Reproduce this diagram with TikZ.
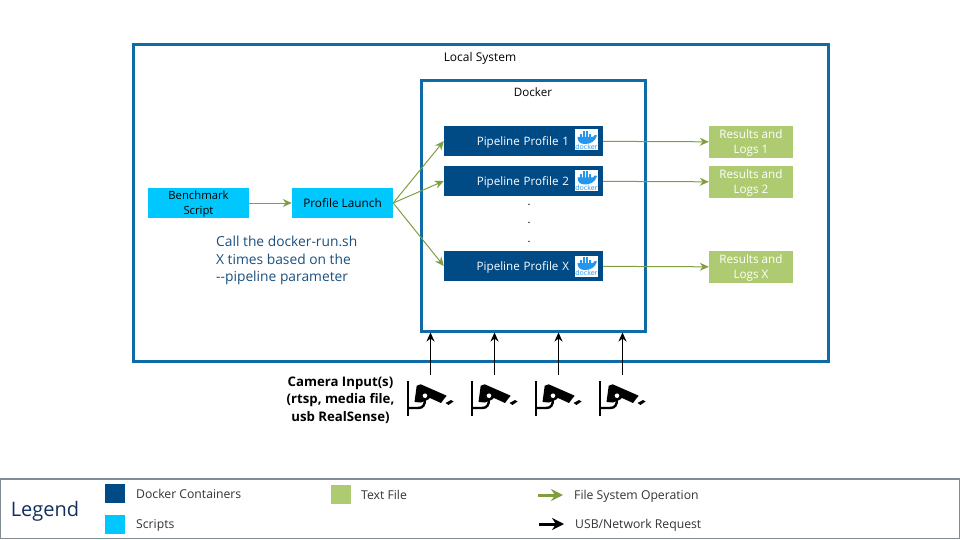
\documentclass[tikz,border=0pt]{standalone}
\usepackage{fontspec}
\setmainfont{Open Sans}
\definecolor{frameblue}{HTML}{0F6BA8}
\definecolor{navy}{HTML}{004A86}
\definecolor{calltext}{HTML}{1A4F7F}
\definecolor{legendnavy}{HTML}{142F5C}
\definecolor{scriptblue}{HTML}{00C7FD}
\definecolor{filegreen}{HTML}{AECB72}
\definecolor{arrowgreen}{HTML}{7F9F3F}
\definecolor{whaleblue}{HTML}{2496ED}
\definecolor{legendgray}{HTML}{7F8C96}
\newcommand{\lowtext}[1]{\rule{0pt}{#1pt}}
\tikzset{
  frame/.style={draw=frameblue, line width=3pt},
  framelabel/.style={inner sep=0pt},
  pipebox/.style={fill=navy, text=white, minimum height=30.5pt, inner sep=0pt, text width=159pt, align=right, font=\fontsize{11.6}{13}\selectfont},
  scriptbox/.style={fill=scriptblue, minimum width=101pt, minimum height=30pt, inner sep=0pt, align=center, font=\fontsize{11.3}{15}\selectfont},
  filebox/.style={fill=filegreen, text=white, minimum width=84pt, minimum height=32pt, inner sep=0pt, align=center, font=\fontsize{11.7}{15}\selectfont},
  swatch/.style={minimum width=20pt, minimum height=19pt, inner sep=0pt},
  legendtext/.style={anchor=west, inner sep=0pt, text=black!80, font=\fontsize{12.2}{14}\selectfont},
  fileop/.style={draw=arrowgreen, line width=1pt, -{Stealth[length=9pt, width=8pt]}},
  netreq/.style={draw=black, line width=1.2pt, -{Stealth[length=9pt, width=8pt]}},
  dockerlogo/.pic={
    \fill[white] (0,0) rectangle (23,21);
    \fill[whaleblue] (2.5,7.5) -- (18,7.5) .. controls (18.5,5) and (21,5) .. (22,6) .. controls (20.5,12) and (15,14.5) .. (10,14.5) .. controls (5,14.5) and (2.5,12) .. (2.5,7.5) -- cycle;
    \foreach \bx in {4.5,7.5,10.5,13.5} \fill[whaleblue] (\bx,4.4) rectangle +(2.7,3.2);
    \foreach \bx in {7.5,10.5} \fill[whaleblue] (\bx,1.2) rectangle +(2.7,3);
    \node[whaleblue, inner sep=0pt, font=\fontsize{7}{7}\selectfont] at (11.5,17.5) {docker};
  },
  camerapic/.pic={
    \fill[black] (0.7,0) rectangle (3.4,35); % post
    \draw[black, line width=2.4pt] (2,27) -- (12,27) .. controls (17,27) and (19,24) .. (19,18);
    \fill[black] (10.7,4.7) -- (14.7,3.3) -- (40.7,14.7) -- (38,18) -- (35,22) -- (24,17) -- (19,20) -- (15,21.5) -- (8.5,21) -- cycle;
    \fill[black] (19,14.7) circle (5pt);
    \fill[white] (19,14.7) circle (2.3pt);
    \fill[black] (39.5,22) -- (45,19) -- (47.5,20.5) -- (42.5,24) -- cycle; % lens
  },
}
\usetikzlibrary{arrows.meta}
\begin{document}
\begin{tikzpicture}[x=1pt, y=-1pt]
  \useasboundingbox (0,0) rectangle (960,540);
  % outer boxes
  \node[frame, minimum width=695pt, minimum height=316pt, inner sep=0pt] (local) at (480.5,203) {};
  \node[framelabel, font=\fontsize{12}{14}\selectfont] (locallabel) at (480,58) {Local System};
  \node[frame, minimum width=224pt, minimum height=250pt, inner sep=0pt] (docker) at (533,206) {};
  \node[framelabel, font=\fontsize{11.6}{14}\selectfont] (dockerlabel) at (533,92) {Docker};
  % left side
  \node[scriptbox] (bench) at (198.5,203) {\lowtext{11.5}Benchmark\\Script};
  \node[scriptbox, font=\fontsize{11.8}{15}\selectfont] (launch) at (342.5,203) {Profile Launch};
  \node[anchor=north west, inner sep=0pt, text=calltext, align=left, font=\fontsize{13.8}{17.5}\selectfont] (calltext) at (216,236) {Call the docker-run.sh\\X times based on the\\{-}{-}pipeline parameter};
  % pipelines
  \node[pipebox] (pipe1) at (523.5,141) {\lowtext{12}Pipeline Profile 1\hspace*{34pt}};
  \node[pipebox] (pipe2) at (523.5,181) {\lowtext{12}Pipeline Profile 2\hspace*{34pt}};
  \node[pipebox] (pipex) at (523.5,266) {\lowtext{12}Pipeline Profile X\hspace*{34pt}};
  \pic at (575,129.5) {dockerlogo};
  \pic at (575,170) {dockerlogo};
  \pic at (575,255.5) {dockerlogo};
  \node[inner sep=0pt, align=center, font=\fontsize{11}{18.5}\selectfont] (dots) at (529,223) {.\\.\\.};
  % results
  \node[filebox] (res1) at (751,142) {\lowtext{10.5}Results and\\Logs 1};
  \node[filebox] (res2) at (751,182) {\lowtext{10.5}Results and\\Logs 2};
  \node[filebox] (resx) at (751,267) {\lowtext{10.5}Results and\\Logs X};
  % green arrows
  \draw[fileop] (bench) -- (launch);
  \draw[fileop] (launch.east) -- (pipe1.west);
  \draw[fileop] (launch.east) -- (pipe2.west);
  \draw[fileop] (launch.east) -- (pipex.west);
  \draw[fileop] (pipe1) -- (res1);
  \draw[fileop] (pipe2) -- (res2);
  \draw[fileop] (pipex) -- (resx);
  % cameras
  \foreach \cx/\cname in {406/a,470/b,534/c,598/d} {
    \pic at (\cx,381) {camerapic};
    \coordinate (cam\cname) at (\cx+24.5,375);
    \draw[netreq] (cam\cname) -- (cam\cname |- docker.south);
  }
  \node[inner sep=0pt, align=center, font=\bfseries\fontsize{13.2}{17.5}\selectfont] (camtext) at (340.5,400) {Camera Input(s)\\(rtsp, media file,\\usb RealSense)};
  % legend
  \draw[legendgray, line width=1pt] (0.5,479) -- (0.5,538.5) -- (959.5,538.5) -- (959.5,479);
  \draw[legendgray, line width=2.5pt] (0,479) -- (960,479);
  \node[inner sep=0pt, text=legendnavy, font=\fontsize{20}{24}\selectfont] (legendtitle) at (45,511) {Legend};
  \node[swatch, fill=navy] (swdocker) at (115,493.5) {};
  \node[swatch, fill=scriptblue] (swscript) at (115,524) {};
  \node[swatch, fill=filegreen] (swfile) at (341,494) {};
  \node[legendtext] (txdocker) at (136,494) {Docker Containers};
  \node[legendtext] (txscript) at (136,525) {Scripts};
  \node[legendtext] (txfile) at (361,495) {Text File};
  \node[legendtext] (txfileop) at (574,496) {File System Operation};
  \node[legendtext] (txnet) at (575,525) {USB/Network Request};
  \coordinate (fsstart) at (538,495);
  \coordinate (fsend) at (563,495);
  \coordinate (netstart) at (539,524);
  \coordinate (netend) at (564,524);
  \draw[arrowgreen, line width=3pt, -{Stealth[length=12pt, width=12pt]}] (fsstart) -- (fsend);
  \draw[black, line width=3pt, -{Stealth[length=12pt, width=12pt]}] (netstart) -- (netend);
\end{tikzpicture}
\end{document}
